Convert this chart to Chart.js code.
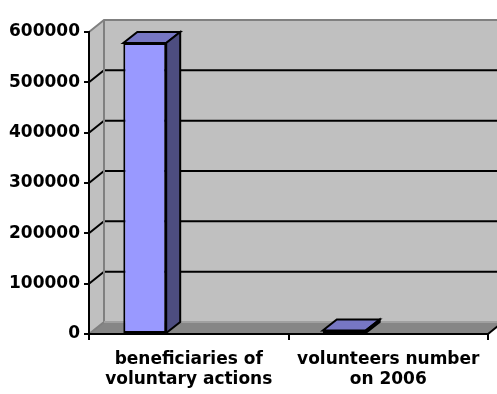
<!DOCTYPE html>
<html>
<head>
<meta charset="utf-8">
<script src="https://cdn.jsdelivr.net/npm/chart.js@4/dist/chart.umd.min.js"></script>
<style>
  html, body { margin: 0; padding: 0; background: #fff; }
  #wrap { position: relative; width: 497px; height: 394px; }
</style>
</head>
<body>
<div id="wrap"><canvas id="grafico"></canvas></div>
<script>
const categorias = [['beneficiaries of', 'voluntary actions'], ['volunteers number', 'on 2006']]
const valores    = [578000, 7000]
const yMax       = 600000
const yPasso     = 100000

// profundidade das paredes e das colunas (projeção oblíqua)
const PAREDE_DX = 15, PAREDE_DY = -12
const BARRA_DX  = 14, BARRA_DY  = -11
const BARRA_DESLOC = -44

const paredes3d = {
  id: 'paredes3d',
  beforeDraw(chart) {
    const { ctx, chartArea: { left, right, top, bottom }, scales: { y } } = chart
    const W = chart.width
    ctx.save()

    // parede do fundo + parede lateral
    ctx.fillStyle = '#c0c0c0'
    ctx.fillRect(left + PAREDE_DX, top + PAREDE_DY, W - left - PAREDE_DX, bottom - top)
    ctx.beginPath()
    ctx.moveTo(left, top)
    ctx.lineTo(left + PAREDE_DX, top + PAREDE_DY)
    ctx.lineTo(left + PAREDE_DX, bottom + PAREDE_DY)
    ctx.lineTo(left, bottom)
    ctx.closePath()
    ctx.fill()

    // piso
    ctx.fillStyle = '#868686'
    ctx.beginPath()
    ctx.moveTo(left, bottom)
    ctx.lineTo(right, bottom)
    ctx.lineTo(right + PAREDE_DX, bottom + PAREDE_DY)
    ctx.lineTo(left + PAREDE_DX, bottom + PAREDE_DY)
    ctx.closePath()
    ctx.fill()

    // linhas de grade (lateral + fundo)
    ctx.strokeStyle = '#000'
    ctx.lineWidth = 2
    y.ticks.forEach(t => {
      if (t.value <= 0 || t.value >= yMax) return
      const yy = y.getPixelForValue(t.value)
      ctx.beginPath()
      ctx.moveTo(left, yy)
      ctx.lineTo(left + PAREDE_DX, yy + PAREDE_DY)
      ctx.lineTo(W, yy + PAREDE_DY)
      ctx.stroke()
    })

    // arestas das paredes
    ctx.strokeStyle = '#808080'
    ctx.beginPath()
    ctx.moveTo(left, top)
    ctx.lineTo(left + PAREDE_DX, top + PAREDE_DY)
    ctx.lineTo(W, top + PAREDE_DY)
    ctx.moveTo(left + PAREDE_DX, top + PAREDE_DY)
    ctx.lineTo(left + PAREDE_DX, bottom + PAREDE_DY)
    ctx.moveTo(left, bottom)
    ctx.lineTo(left + PAREDE_DX, bottom + PAREDE_DY)
    ctx.stroke()
    ctx.strokeStyle = '#a0a0a0'
    ctx.beginPath()
    ctx.moveTo(left + PAREDE_DX, bottom + PAREDE_DY)
    ctx.lineTo(W, bottom + PAREDE_DY)
    ctx.stroke()

    // borda direita do piso
    ctx.strokeStyle = '#000'
    ctx.beginPath()
    ctx.moveTo(right, bottom)
    ctx.lineTo(right + PAREDE_DX, bottom + PAREDE_DY)
    ctx.stroke()
    ctx.restore()
  },
  beforeDatasetsDraw(chart) {
    chart.ctx.save()
    chart.ctx.translate(BARRA_DESLOC, 0)
  },
  afterDatasetsDraw(chart) {
    const { ctx } = chart
    ctx.lineWidth = 2
    ctx.strokeStyle = '#000'
    ctx.lineJoin = 'miter'
    chart.getDatasetMeta(0).data.forEach(el => {
      const { x, y, base, width } = el.getProps(['x', 'y', 'base', 'width'], true)
      const l = x - width / 2, r = x + width / 2
      // topo
      ctx.fillStyle = '#7777c4'
      ctx.beginPath()
      ctx.moveTo(l, y)
      ctx.lineTo(l + BARRA_DX, y + BARRA_DY)
      ctx.lineTo(r + BARRA_DX, y + BARRA_DY)
      ctx.lineTo(r, y)
      ctx.closePath()
      ctx.fill(); ctx.stroke()
      // lateral
      ctx.fillStyle = '#4d4d80'
      ctx.beginPath()
      ctx.moveTo(r, y)
      ctx.lineTo(r + BARRA_DX, y + BARRA_DY)
      ctx.lineTo(r + BARRA_DX, base + BARRA_DY)
      ctx.lineTo(r, base)
      ctx.closePath()
      ctx.fill(); ctx.stroke()
    })
    ctx.restore()
  },
}

Chart.defaults.font.family = '"DejaVu Sans", sans-serif'
Chart.defaults.font.size = 17
Chart.defaults.font.weight = 'bold'
Chart.defaults.color = '#000'

new Chart(document.getElementById('grafico'), {
  type: 'bar',
  data: {
    labels: categorias,
    datasets: [{
      data: valores,
      backgroundColor: '#9999ff',
      borderColor: '#000',
      borderWidth: 2,
      borderSkipped: false,
      categoryPercentage: 1,
      barPercentage: 0.215,
    }],
  },
  options: {
    responsive: true,
    maintainAspectRatio: false,
    animation: false,
    layout: { padding: { top: 32, right: 9, left: 0, bottom: 0 } },
    plugins: { legend: { display: false }, tooltip: { enabled: false } },
    scales: {
      x: {
        afterFit: s => { s.height = 60 },
        grid: { drawOnChartArea: false, drawTicks: true, tickLength: 6, color: '#000', lineWidth: 2 },
        border: { display: true, color: '#000', width: 2 },
        ticks: { padding: 9, maxRotation: 0, autoSkip: false },
      },
      y: {
        min: 0,
        max: yMax,
        afterFit: s => { s.width = 89 },
        grid: { drawOnChartArea: false, drawTicks: true, tickLength: 5, color: '#000', lineWidth: 2 },
        border: { display: true, color: '#000', width: 2 },
        ticks: { stepSize: yPasso, padding: 4, callback: v => String(v) },
      },
    },
  },
  plugins: [paredes3d],
})
</script>
</body>
</html>
